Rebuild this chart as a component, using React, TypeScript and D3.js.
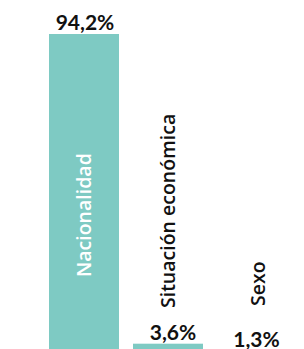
import React from 'react'
import * as d3 from 'd3'

const categories = ['Nacionalidad', 'Situación económica', 'Sexo']
const values = [94.2, 3.6, 1.3]
const valueLabels = ['94,2%', '3,6%', '1,3%']

const W = 304
const H = 349
const barColor = '#7ecac3'

function App() {
  const x = d3
    .scaleBand()
    .domain(categories)
    .range([42, 294])
    .paddingInner(1 / 6)
    .paddingOuter(1 / 12)

  // baseline sits a little below the visible area, as in the original crop
  const y = d3.scaleLinear().domain([0, 94.2]).range([356, 34])

  // small hand nudges so the labels land where the original put them
  const valueDx = [1, 5, 4.5]
  const nameDx = [7, 7, 13]
  const nameY = [277, 308, 306]

  return (
    <svg
      width={W}
      height={H}
      style={{position: 'absolute', left: 0, top: 0, display: 'block', background: '#fff'}}>
      {categories.map((c, i) => {
        const bx = x(c) as number
        const cx = bx + x.bandwidth() / 2
        const inside = i === 0
        return (
          <g key={c}>
            <rect
              x={bx}
              y={y(values[i])}
              width={x.bandwidth()}
              height={y(0) - y(values[i])}
              fill={barColor}
            />
            <text
              x={cx + valueDx[i]}
              y={Math.min(y(values[i]) - 4, 347)}
              textAnchor="middle"
              fontFamily="Lato"
              fontWeight={700}
              fontSize={21}
              fill="#111">
              {valueLabels[i]}
            </text>
            <text
              transform={`translate(${cx + nameDx[i]},${nameY[i]}) rotate(-90)`}
              fontFamily="Open Sans"
              fontWeight={600}
              fontSize={19.5}
              fill={inside ? '#fff' : '#111'}>
              {c}
            </text>
          </g>
        )
      })}
    </svg>
  )
}

export default App
